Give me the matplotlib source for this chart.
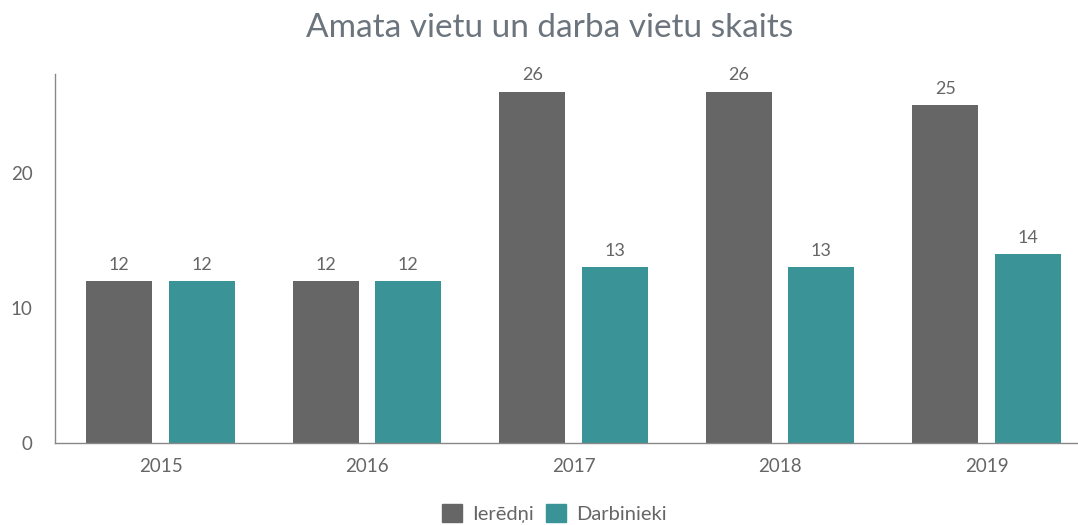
import matplotlib
matplotlib.use("Agg")
import matplotlib.pyplot as plt
from matplotlib.patches import Patch
import numpy as np

plt.rcParams['font.family'] = ['Lato', 'DejaVu Sans']

years = ["2015", "2016", "2017", "2018", "2019"]
ieredni = [12, 12, 26, 26, 25]
darbinieki = [12, 12, 13, 13, 14]

grey = "#666666"
teal = "#3a9396"
text_col = "#666666"

fig = plt.figure(figsize=(10.78, 5.25), dpi=100)
ax = fig.add_axes([0.051, 0.156, 0.949, 0.703])

x = np.arange(len(years))
w = 0.32
b1 = ax.bar(x - 0.2, ieredni, w, color=grey)
b2 = ax.bar(x + 0.2, darbinieki, w, color=teal)

for bars in (b1, b2):
    for r in bars:
        ax.text(r.get_x() + r.get_width() / 2, r.get_height() + 0.6, str(int(r.get_height())),
                ha="center", va="bottom", fontsize=13, color=text_col)

ax.set_xlim(-0.511, 4.443)
ax.set_ylim(0, 27.3)
ax.set_xticks(x)
ax.set_xticklabels(years)
ax.set_yticks([0, 10, 20])
ax.tick_params(length=0, labelsize=13.5, colors=text_col, pad=11)
ax.tick_params(axis="y", pad=16)
for s in ("top", "right"):
    ax.spines[s].set_visible(False)
for s in ("left", "bottom"):
    ax.spines[s].set_color("#888888")
    ax.spines[s].set_linewidth(1)

fig.suptitle("Amata vietu un darba vietu skaits", x=0.51, y=0.975, fontsize=24, color="#6c757d")

handles = [Patch(color=grey, label="Ierēdņi"), Patch(color=teal, label="Darbinieki")]
fig.legend(handles=handles, loc="center", bbox_to_anchor=(0.514, 0.022), ncol=2, frameon=False,
           fontsize=14.5, labelcolor=text_col, handlelength=1, handleheight=1, handletextpad=0.5,
           columnspacing=0.6)

fig.savefig("out.png", dpi=100)
